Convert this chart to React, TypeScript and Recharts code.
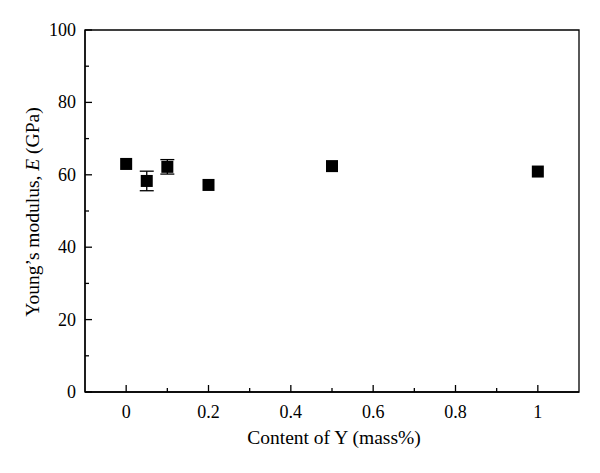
import { ScatterChart, Scatter, XAxis, YAxis, ErrorBar, ReferenceArea } from 'recharts';

const yttrium = [0, 0.05, 0.1, 0.2, 0.5, 1];
const modulus = [63.0, 58.3, 62.2, 57.2, 62.4, 60.9];
const modulusErr = [0, 2.7, 2.0, 0, 0, 0];

const xTicks = [0, 0.1, 0.2, 0.3, 0.4, 0.5, 0.6, 0.7, 0.8, 0.9, 1];
const xMajor = [0, 0.2, 0.4, 0.6, 0.8, 1];
const yTicks = [0, 10, 20, 30, 40, 50, 60, 70, 80, 90, 100];
const yMajor = [0, 20, 40, 60, 80, 100];

const points = yttrium.map((x, i) => ({ x, y: modulus[i], err: modulusErr[i] }));

const font = '"Liberation Serif", "Times New Roman", serif';

function XTick(props: any) {
  const { x, y, payload } = props;
  const major = xMajor.includes(payload.value);
  return (
    <g>
      <line x1={x} y1={y} x2={x} y2={y - (major ? 7 : 4)} stroke="#000" strokeWidth={1.3} />
      {major && (
        <text x={x} y={y + 26} textAnchor="middle" fontFamily={font} fontSize={18} fill="#000">
          {payload.value}
        </text>
      )}
    </g>
  );
}

function YTick(props: any) {
  const { x, y, payload } = props;
  const major = yMajor.includes(payload.value);
  return (
    <g>
      <line x1={x} y1={y} x2={x + (major ? 7 : 4)} y2={y} stroke="#000" strokeWidth={1.3} />
      {major && (
        <text x={x - 9} y={y + 6} textAnchor="end" fontFamily={font} fontSize={18} fill="#000">
          {payload.value}
        </text>
      )}
    </g>
  );
}

function SquareDot(props: any) {
  const { cx, cy } = props;
  return <rect x={cx - 6} y={cy - 6} width={12} height={12} fill="#000" />;
}

export default function App() {
  return (
    <div style={{ position: 'absolute', left: 0, top: 0, width: 600, height: 473, background: '#fff' }}>
      <ScatterChart width={600} height={473} margin={{ top: 30, right: 21, bottom: 21, left: 0 }}>
        <XAxis
          type="number"
          dataKey="x"
          domain={[-0.1, 1.1]}
          ticks={xTicks}
          interval={0}
          height={60}
          tickSize={0}
          tickMargin={0}
          tickLine={false}
          tick={<XTick />}
          axisLine={{ stroke: '#000', strokeWidth: 1.3 }}
        />
        <YAxis
          type="number"
          dataKey="y"
          domain={[0, 100]}
          ticks={yTicks}
          interval={0}
          width={85}
          tickSize={0}
          tickMargin={0}
          tickLine={false}
          tick={<YTick />}
          axisLine={{ stroke: '#000', strokeWidth: 1.3 }}
        />
        <ReferenceArea x1={-0.1} x2={1.1} y1={0} y2={100} fill="none" stroke="#000" strokeWidth={1.3} fillOpacity={0} />
        <Scatter data={points} fill="#000" shape={<SquareDot />} isAnimationActive={false}>
          <ErrorBar dataKey="err" direction="y" width={7} stroke="#000" strokeWidth={1.3} />
        </Scatter>
        <text x={334} y={444} textAnchor="middle" fontFamily={font} fontSize={19.5} fill="#000">
          Content of Y (mass%)
        </text>
        <text transform="translate(39,212) rotate(-90)" textAnchor="middle" fontFamily={font} fontSize={19.5} fill="#000">
          Young’s modulus, <tspan fontStyle="italic">E</tspan> (GPa)
        </text>
      </ScatterChart>
    </div>
  );
}
